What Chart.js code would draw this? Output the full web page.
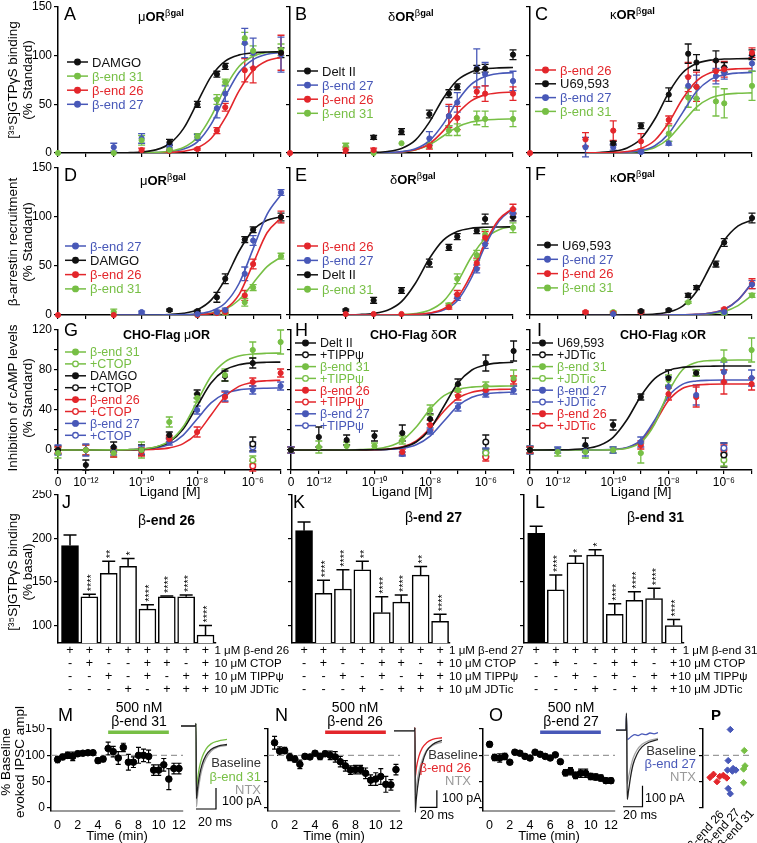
<!DOCTYPE html>
<html><head><meta charset="utf-8">
<script src="https://cdn.jsdelivr.net/npm/chart.js@4.4.1/dist/chart.umd.min.js"></script>
<style>
html,body{margin:0;padding:0;background:#fff;}
#root{position:relative;width:757px;height:843px;overflow:hidden;background:#fff;font-family:'Liberation Sans',Arial,Helvetica,sans-serif;color:#000;}
#root canvas{position:absolute;}
.t{position:absolute;white-space:nowrap;line-height:1;}
.t sup{font-size:0.72em;vertical-align:0.5em;line-height:0;}
.n{font-weight:normal;}
</style></head><body><div id="root"></div>
<script>
// ================= DATA =================
// dose axis = log10 [M]; -13 stands for the "0" (vehicle) position
const X_TICKS = [-13,-12,-11,-10,-9,-8,-7,-6,-5];
const X_LABELS = ['0','10⁻¹²','','10⁻¹⁰','','10⁻⁸','','10⁻⁶',''];
const Y_TICKS_12 = [0,50,100,150];
const Y_LABELS_12 = ['0','50','100','150'];
const Y_TICKS_3 = [-20,0,20,40,60,80,100,120];
const Y_LABELS_3 = ['','0','','40','','80','','120'];
const FIT_X = [-11,-10.5,-10,-9.5,-9,-8.5,-8,-7.5,-7,-6.5,-6,-5.5,-5];
const FIT_X3 = [-13,-12,-11,-10.5,-10,-9.5,-9,-8.5,-8,-7.5,-7,-6.5,-6,-5.5,-5];

// A  muOR bgal  [35S]GTPgS
const A_DAMGO_FIT = [0.1,0.3,1.0,3.2,9.5,25,52,79,94.5,100.8,103,103.7,103.9];
const A_B31_FIT = [0,0.06,0.2,0.6,1.8,5.6,15.9,37.8,67.2,89.1,99.4,103.2,104.4];
const A_B26_FIT = [0,0,0.06,0.18,0.56,1.75,5.3,15.1,36,64,84.9,94.7,98.3];
const A_B27_FIT = [0,0.04,0.12,0.4,1.3,4,11.5,30,58,83,96,101.5,103.3];
const A_DAMGO_PTS = [[-9,11,3],[-8,50,3],[-7.3,81,3],[-7,89,3],[-5,103,5]];
const A_B31_PTS = [[-13,0,0],[-11,0,0],[-10,13,5],[-9,3,2],[-8,17,3],[-7.3,55,5],[-7,73,3],[-6.3,118,6],[-6,105,5],[-5,106,6]];
const A_B26_PTS = [[-10,3,2],[-9,2,1],[-8,4,1],[-7.3,23,3],[-7,47,4],[-6.3,85,12],[-6,87,15],[-5,103,18]];
const A_B27_PTS = [[-11,6,4],[-10,15,5],[-9,6,3],[-8,16,3],[-7.3,46,10],[-7,61,8],[-6.3,113,15],[-6,103,15],[-5,101,18]];
// B  deltaOR bgal
const B_DELT_FIT = [0.05,0.16,0.5,1.5,4.7,13.3,31.7,56.3,74.7,83.3,86.5,87.5,87.8];
const B_B27_FIT = [0,0.05,0.15,0.46,1.45,4.4,12.5,29.9,53.1,70.5,78.6,81.6,82.6];
const B_B26_FIT = [0,0.04,0.11,0.35,1.1,3.3,9.5,22.7,40.3,53.5,59.7,61.9,62.7];
const B_B31_FIT = [0.01,0.035,0.11,0.35,1.07,3.2,8.4,17.5,26.6,31.8,33.9,34.7,34.9];
const B_DELT_PTS = [[-10,16,2],[-9,22,3],[-8,40,4],[-7.3,61,4],[-7,68,3],[-6.3,86,4],[-6,87,4],[-5,101,5]];
const B_B27_PTS = [[-8,15,7],[-7.3,38,10],[-7,52,10],[-6.3,87,20],[-6,81,12],[-5,74,10]];
const B_B26_PTS = [[-13,0,0],[-11,3,3],[-10,3,2],[-8,7,3],[-7.3,38,12],[-7,36,12],[-6.3,63,5],[-6,61,8],[-5,61,7]];
const B_B31_PTS = [[-11,7,3],[-10,0,0],[-9,10,0],[-8,8,3],[-7.3,23,5],[-7,24,6],[-6.3,36,7],[-6,35,8],[-5,35,8]];
// C  kappaOR bgal
const C_B26_FIT = [0.05,0.16,0.49,1.5,4.6,13.1,31.3,55.7,73.9,82.4,85.5,86.5,86.8];
const C_U69_FIT = [0.17,0.54,1.7,5.2,14.6,34.9,62.1,82.4,91.9,95.4,96.5,96.9,97];
const C_B27_FIT = [0.02,0.08,0.26,0.82,2.55,7.5,19.9,41.5,63.1,75.4,80.4,82.2,82.7];
const C_B31_FIT = [0.015,0.06,0.19,0.61,1.9,5.6,14.9,31,47.1,56.4,60.1,61.4,61.8];
const C_B26_PTS = [[-13,0,0],[-11,14,7],[-10,23,10],[-9,12,8],[-8,34,4],[-7.3,78,15],[-7,68,15],[-6.3,84,10],[-6,86,8],[-5,103,5]];
const C_U69_PTS = [[-10,10,2],[-9,28,3],[-8,60,7],[-7.3,102,10],[-7,93,8],[-6.3,95,10],[-6,88,5],[-5,101,5]];
const C_B27_PTS = [[-11,6,10],[-10,6,3],[-9,1,1],[-8,10,2],[-7.3,69,10],[-7,68,12],[-6.3,79,8],[-6,82,6],[-5,92,8]];
const C_B31_PTS = [[-8,20,8],[-7.3,57,10],[-7,56,12],[-6.3,53,15],[-6,51,15],[-5,69,15]];
// D  muOR beta-arrestin
const D_B27_FIT = [0,0,0,0.04,0.13,0.43,1.34,4.1,12.3,32.4,67.5,102.6,122.7];
const D_DAMGO_FIT = [0,0,0.06,0.18,0.57,1.8,5.4,15.4,36.7,65.3,86.6,96.6,100.3];
const D_B26_FIT = [0,0,0,0,0,0.1,0.4,1.6,6.2,21.1,52.5,83.9,98.8];
const D_B31_FIT = [0,0,0,0.02,0.06,0.2,0.64,2.0,5.9,15.6,32.5,49.4,59.1];
const D_B27_PTS = [[-10,3,1],[-8,1,1],[-7.3,3,2],[-7,5,2],[-6.3,42,7],[-6,76,5],[-5,125,3]];
const D_DAMGO_PTS = [[-9,5,1],[-8,4,1],[-7.3,18,5],[-7,37,5],[-6.3,77,3],[-6,87,3],[-5,100,4]];
const D_B26_PTS = [[-13,0,0],[-11,0,0],[-8,0,0],[-7.3,2,1],[-7,3,2],[-6.3,20,5],[-6,52,5],[-5,100,6]];
const D_B31_PTS = [[-11,3,3],[-8,0,0],[-7.3,2,1],[-7,2,1],[-6.3,13,4],[-6,28,3],[-5,60,3]];
// E  deltaOR beta-arrestin
const E_B26_FIT = [0,0,0,0.06,0.2,0.6,2.0,6.1,17.4,41.4,73.6,97.6,108.9];
const E_B27_FIT = [0,0,0,0.05,0.16,0.5,1.6,5.0,14.5,37.5,70.5,96,108.5];
const E_DELT_FIT = [0.16,0.5,1.6,4.8,13.6,32.4,57.6,76.4,85.2,88.5,89.5,89.8,90];
const E_B31_FIT = [0,0,0.05,0.16,0.5,1.6,4.9,13.9,33.1,58.9,78.1,87.1,90.4];
const E_B26_PTS = [[-11,1,0],[-10,1,0],[-9,1,0],[-7.3,8,2],[-7,21,4],[-6.3,53,5],[-6,79,6],[-5,108,5]];
const E_B27_PTS = [[-7,18,3],[-6.3,47,4],[-6,72,4],[-5,104,4]];
const E_DELT_PTS = [[-11,5,1],[-10,15,3],[-9,25,3],[-8,53,4],[-7.3,69,3],[-7,80,3],[-6.3,86,3],[-6,98,5],[-5,100,4]];
const E_B31_PTS = [[-7.3,10,2],[-7,37,5],[-6.3,61,5],[-6,82,5],[-5,89,5]];
// F  kappaOR beta-arrestin
const F_U69_FIT = [0,0,0.03,0.1,0.32,1.0,3.1,9.1,24,50,76,90.9,96.9];
const F_B27_FIT = [0,0,0,0,0,0,0.06,0.2,0.6,1.9,5.7,15.5,33];
const F_B26_FIT = [0,0,0,0,0,0,0.07,0.2,0.64,2.0,5.9,15.6,32.5];
const F_B31_FIT = [0,0,0,0,0,0,0.04,0.13,0.4,1.2,3.6,9.6,20];
const F_U69_PTS = [[-9,4,1],[-8,5,1],[-7.3,20,2],[-7,28,2],[-6.3,52,3],[-6,74,4],[-5,99,5]];
const F_B27_PTS = [[-10,1,0],[-6,3,1],[-5,31,4]];
const F_B26_PTS = [[-11,3,1],[-10,2,1],[-9,3,1],[-6,6,1],[-5,32,5]];
const F_B31_PTS = [[-10,3,1],[-7.3,13,1],[-6,2,1],[-5,20,2]];
// G  CHO-Flag muOR cAMP
const G_B31_FIT = [0,0.01,0.1,0.31,0.96,3.0,8.8,23.3,48.5,73.7,88.2,94,96,96.7,96.9];
const G_DAMGO_FIT = [0,0.01,0.09,0.28,0.87,2.7,8.0,21.1,44,66.9,80,85.3,87.1,87.7,87.9];
const G_B26_FIT = [0,0,0.02,0.07,0.22,0.69,2.1,6.4,16.8,35,53.2,63.6,67.8,69.3,69.8];
const G_B27_FIT = [0,0.006,0.06,0.2,0.61,1.9,5.6,14.9,31,47.1,56.4,60.1,61.4,61.8,62];
const G_B31_PTS = [[-13,-3,5],[-12,0,5],[-11,-3,4],[-10,0,8],[-9,28,5],[-8,52,4],[-7,75,6],[-6,100,8],[-5,108,12]];
const G_B31_ANT = [[-6,-10,4]];
const G_DAMGO_PTS = [[-13,0,4],[-12,-15,5],[-11,3,5],[-10,0,5],[-9,15,3],[-8,56,4],[-7,74,5],[-6,87,5]];
const G_DAMGO_ANT = [[-6,6,7]];
const G_B26_PTS = [[-13,0,3],[-12,0,5],[-11,-3,4],[-10,-2,4],[-9,11,3],[-8,18,5],[-7,53,5],[-6,68,4],[-5,77,4]];
const G_B26_ANT = [[-6,-16,5]];
const G_B27_PTS = [[-13,0,5],[-12,0,6],[-11,-1,4],[-10,0,4],[-9,8,3],[-8,40,4],[-7,54,5],[-6,60,4],[-5,64,4]];
const G_B27_ANT = [[-6,3,5]];
// H  CHO-Flag deltaOR cAMP
const H_DELT_FIT = [0,0,0.03,0.09,0.28,0.87,2.7,8.0,21.1,44,66.9,80,85.3,87.1,87.7];
const H_B31_FIT = [0,0.01,0.11,0.36,1.1,3.4,9.7,23,41,54.3,60.6,62.9,63.6,63.9,64];
const H_B26_FIT = [0,0,0.03,0.1,0.34,1.07,3.2,9.2,22,39,51.8,57.8,60,60.6,60.9];
const H_B27_FIT = [0,0,0.02,0.06,0.18,0.57,1.8,5.3,13.9,29,44.1,52.7,56.2,57.4,57.8];
const H_DELT_PTS = [[-13,0,3],[-12,13,10],[-11,10,5],[-10,14,5],[-9,17,8],[-8,31,5],[-7,66,5],[-6,87,8],[-5,99,10]];
const H_DELT_ANT = [[-6,8,7]];
const H_B31_PTS = [[-13,0,3],[-12,3,6],[-11,4,4],[-10,4,3],[-9,10,4],[-8,40,5],[-7,60,5],[-6,64,4],[-5,72,8]];
const H_B31_ANT = [[-6,-3,4]];
const H_B26_PTS = [[-13,0,3],[-9,-2,3],[-8,25,5],[-7,54,4],[-6,60,4],[-5,70,4]];
const H_B26_ANT = [[-6,-7,4]];
const H_B27_PTS = [[-13,0,3],[-9,-4,2],[-8,19,3],[-7,43,4],[-6,56,3],[-5,60,4]];
const H_B27_ANT = [[-6,-2,4]];
// I  CHO-Flag kappaOR cAMP
const I_U69_FIT = [0,0.15,1.5,4.5,12.7,30.2,53.8,71.3,79.5,82.6,83.5,83.8,84,84,84];
const I_B31_FIT = [0,0,0,0.05,0.4,1.8,7.5,26,58,80,87.5,89.4,89.8,90,90];
const I_B27_FIT = [0,0,0,0.1,0.6,2.5,10,29.8,53.8,65.6,69,69.7,70,70,70];
const I_B26_FIT = [0,0,0,0.05,0.5,2.2,8.8,27,49.5,61.5,64.8,65.7,66,66,66];
const I_U69_PTS = [[-13,0,3],[-11,5,7],[-10,25,5],[-9,53,3],[-8,72,8],[-7,77,3]];
const I_U69_ANT = [[-6,-5,12]];
const I_B31_PTS = [[-13,0,4],[-12,-2,4],[-11,-2,6],[-10,0,3],[-9,-3,10],[-8,70,5],[-7,77,3],[-6,90,10],[-5,100,12]];
const I_B31_ANT = [[-6,-10,6]];
const I_B27_PTS = [[-13,0,4],[-12,0,3],[-11,-1,5],[-10,0,3],[-9,8,5],[-8,63,10],[-7,55,10],[-6,78,10],[-5,72,8]];
const I_B27_ANT = [[-6,2,5]];
const I_B26_PTS = [[-13,0,3],[-9,5,4],[-8,56,6],[-7,53,10],[-6,68,12],[-5,66,6]];
const I_B26_ANT = [[-6,0,5]];

// J K L  [35S]GTPgS % basal, antagonist table
const BAR_Y_TICKS = [100,150,200,250];
const BAR_Y_LABELS = ['100','150','200','250'];
const J_VALS = [192,133,160,168,119,133,133,89];
const J_ERR = [12,3,14,9,5,1,2,11];
const J_STARS = ['','****','**','*','****','****','****','****'];
const K_VALS = [209,137,142,164,115,127,158,105];
const K_ERR = [10,15,22,10,18,8,10,8];
const K_STARS = ['','****','****','**','****','****','**','****'];
const L_VALS = [206,141,172,181,113,129,131,100];
const L_ERR = [8,17,8,6,12,10,12,7];
const L_STARS = ['','****','*','*','****','****','****','****'];
const ROW_LIG = ['+','+','+','+','+','+','+','+'];
const ROW_CTOP = ['-','+','-','-','+','+','-','+'];
const ROW_TIPP = ['-','-','+','-','+','-','+','+'];
const ROW_JDTIC = ['-','-','-','+','-','+','+','+'];
const J_ROWLAB = ['1 μM β-end 26','10 μM CTOP','10 μM TIPPψ','10 μM JDTic'];
const K_ROWLAB = ['1 μM β-end 27','10 μM CTOP','10 μM TIPPψ','10 μM JDTic'];
const L_ROWLAB = ['1 μM β-end 31','10 μM CTOP','10 μM TIPPψ','10 μM JDTic'];

// M N O  evoked IPSC time course
const T_MIN = [0,0.5,1,1.5,2,2.5,3,3.5,4,4.5,5,5.5,6,6.5,7,7.5,8,8.5,9,9.5,10,10.5,11,11.5,12];
const T_TICKS = [0,2,4,6,8,10,12];
const T_LABELS = ['0','2','4','6','8','10','12'];
const M_VALS = [92,97,100,98,103,104,105,105,90,93,113,107,95,115,87,87,100,100,98,72,72,82,55,75,75];
const M_ERR = [6,5,6,8,5,4,4,3,5,5,12,10,12,8,15,10,15,12,12,10,10,12,20,10,10];
const N_VALS = [124,108,109,97,93,83,98,97,104,98,103,100,97,88,80,72,73,73,66,53,55,60,45,44,73];
const N_ERR = [12,8,6,7,6,8,4,4,4,6,5,8,10,10,10,8,8,8,10,10,12,15,15,10,10];
const O_VALS = [121,96,95,98,87,106,104,98,95,106,102,98,95,101,88,67,70,62,66,66,60,59,57,52,52];
const O_ERR = [5,6,8,6,3,4,4,4,4,3,4,4,4,3,4,6,7,6,8,8,6,6,6,5,5];
const DRUG_ON = [5,11];
// P  per-cell % baseline
const P_B26 = [58,64,50,60,62,57];
const P_B26_JIT = [-0.6,-0.35,-0.1,0.1,0.35,0.6];
const P_B27 = [149,90,75,72,70,72,37,27];
const P_B27_JIT = [-0.1,-0.25,0.1,-0.3,0.05,0.3,-0.25,-0.1];
const P_B31 = [109,80,74,48];
const P_B31_JIT = [0.05,0.1,0,0];
// IPSC traces  [ms, pA]
const M_TR_BASE = [[0,0],[14.6,0],[15,12],[15.4,-345],[16.5,-300],[18.5,-235],[21,-185],[25,-140],[30,-112],[37,-96],[46,-88]];
const M_TR_NTX = [[0,0],[14.6,0],[15,10],[15.4,-385],[16.5,-335],[18.5,-265],[21,-205],[25,-155],[30,-120],[37,-100],[46,-92]];
const M_TR_DRUG = [[14.6,0],[15,10],[15.4,-300],[16.5,-255],[18.5,-195],[21,-150],[25,-110],[30,-85],[37,-72],[46,-64]];
const M_SCALE = [[15,-395],[35,-395],[35,-295]];
const N_TR_BASE = [[0,0],[24,0],[24.5,20],[24.8,-480],[26,-400],[29,-280],[33,-190],[38,-120],[45,-80],[56,-55]];
const N_TR_NTX = [[0,0],[24,0],[24.5,15],[24.8,-380],[26,-330],[29,-240],[33,-170],[38,-115],[45,-85],[56,-65]];
const N_TR_DRUG = [[24,0],[24.5,20],[24.8,-270],[26,-220],[29,-150],[33,-100],[38,-70],[45,-50],[56,-40]];
const N_SCALE = [[30,-450],[50,-450],[50,-350]];
const O_TR_BASE = [[0,0],[10,0],[10.4,80],[10.8,-20],[11.2,-330],[12.5,-290],[14.5,-225],[17,-165],[21,-115],[26,-80],[33,-58],[42,-45]];
const O_TR_NTX = [[0,0],[10,0],[10.4,60],[10.8,-20],[11.2,-255],[12.5,-225],[14.5,-180],[17,-135],[21,-95],[26,-68],[33,-50],[42,-40]];
const O_TR_DRUG = [[0,0],[10,0],[10.4,70],[10.8,-30],[11.5,-45],[13,-40],[16,-28],[19,-22],[22,-26],[26,-18],[30,-22],[34,-14],[38,-18],[42,-12]];
const O_SCALE = [[7,-365],[26.5,-365],[26.5,-265]];

// ================= STYLE / HELPERS =================
const FONT = "'Liberation Sans', Arial, Helvetica, sans-serif";
const CK = '#111111', CG = '#77bf45', CR = '#e3262b', CB = '#4858b8', CGRAY = '#9a9a9a';
Chart.defaults.font.family = FONT;
Chart.defaults.color = '#000';
const root = document.getElementById('root');

function txt(html, x, cy, o) {
  o = o || {};
  const d = document.createElement('div');
  d.className = 't';
  d.innerHTML = html;
  d.style.fontSize = (o.size || 13) + 'px';
  if (o.bold) d.style.fontWeight = 'bold';
  if (o.color) d.style.color = o.color;
  d.style.top = cy + 'px';
  if (o.align === 'center') { d.style.left = x + 'px'; d.style.transform = 'translate(-50%,-50%)'; }
  else if (o.align === 'right') { d.style.right = (757 - x) + 'px'; d.style.transform = 'translateY(-50%)'; }
  else { d.style.left = x + 'px'; d.style.transform = 'translateY(-50%)'; }
  if (o.rot) { d.style.transformOrigin = '100% 50%'; d.style.transform = 'translateY(-50%) rotate(' + o.rot + 'deg)'; }
  root.appendChild(d);
  return d;
}
function vtxt(lines, cx, cy, size, lh) {
  const d = document.createElement('div');
  d.className = 't';
  d.style.fontSize = size + 'px';
  d.style.lineHeight = lh + 'px';
  d.style.textAlign = 'center';
  d.innerHTML = lines.join('<br>');
  d.style.left = cx + 'px'; d.style.top = cy + 'px';
  d.style.transform = 'translate(-50%,-50%) rotate(-90deg)';
  root.appendChild(d);
}

function drawErr(chart, after) {
  const ctx = chart.ctx, xs = chart.scales.x, ys = chart.scales.y;
  chart.data.datasets.forEach(ds => {
    if (!ds.errs || (!!ds.errAfter) !== after) return;
    ctx.save();
    ctx.strokeStyle = ds.borderColor; ctx.lineWidth = ds.errW || 1.2;
    ctx.beginPath();
    ds.data.forEach((p, i) => {
      const e = ds.errs[i]; if (!e) return;
      const x = xs.getPixelForValue(p.x), c = ds.errCap || 3.5;
      const y1 = ys.getPixelForValue(p.y + e);
      const y2 = ds.errUp ? ys.getPixelForValue(p.y) : ys.getPixelForValue(p.y - e);
      ctx.moveTo(x, y1); ctx.lineTo(x, y2);
      ctx.moveTo(x - c, y1); ctx.lineTo(x + c, y1);
      if (!ds.errUp) { ctx.moveTo(x - c, y2); ctx.lineTo(x + c, y2); }
    });
    ctx.stroke(); ctx.restore();
  });
}
const errPlugin = { id: 'errbars',
  beforeDatasetsDraw(chart) { drawErr(chart, false); },
  afterDatasetsDraw(chart) { drawErr(chart, true); } };

const legPlugin = { id: 'leg2',
  afterDraw(chart) {
    const cfg = chart.canvas._cfg; if (!cfg || !cfg.leg) return;
    const L = cfg.leg, ctx = chart.ctx, ox = chart.canvas._ox, oy = chart.canvas._oy;
    L.items.forEach((ds, i) => {
      const x = L.x - ox, y = L.y - oy + i * L.dy, col = ds.borderColor;
      ctx.save();
      ctx.strokeStyle = col; ctx.lineWidth = 1.5;
      ctx.beginPath(); ctx.moveTo(x, y); ctx.lineTo(x + 21, y); ctx.stroke();
      ctx.beginPath(); ctx.arc(x + 10.5, y, 2.8, 0, 2 * Math.PI);
      ctx.fillStyle = ds.open ? '#fff' : col; ctx.fill(); ctx.lineWidth = 1.3; ctx.stroke();
      ctx.fillStyle = col; ctx.font = L.fs + 'px ' + FONT; ctx.textBaseline = 'middle'; ctx.textAlign = 'left';
      ctx.fillText(ds.label, x + 25, y + 1);
      ctx.restore();
    });
  } };

const barTextPlugin = { id: 'bartext',
  afterDraw(chart) {
    const cfg = chart.canvas._cfg; if (!cfg || !cfg.table) return;
    const ctx = chart.ctx, xs = chart.scales.x, ys = chart.scales.y, oy = chart.canvas._oy;
    const ds = chart.data.datasets[0];
    ctx.save(); ctx.fillStyle = '#000';
    ctx.font = '11px ' + FONT;
    ds.data.forEach((p, i) => {
      const s = ds.stars[i]; if (!s) return;
      const x = xs.getPixelForValue(p.x), y = ys.getPixelForValue(p.y + ds.errs[i]) - 3;
      ctx.save(); ctx.translate(x + 2.5, y); ctx.rotate(-Math.PI / 2);
      ctx.textAlign = 'left'; ctx.textBaseline = 'middle'; ctx.fillText(s, 0, 0); ctx.restore();
    });
    const T = cfg.table;
    T.rows.forEach((row, r) => {
      const y = T.rowY[r] - oy;
      ctx.font = T.fs + 'px ' + FONT; ctx.textAlign = 'center'; ctx.textBaseline = 'middle';
      row.forEach((s, i) => ctx.fillText(s, xs.getPixelForValue(i + 1), y));
      ctx.font = T.lfs + 'px ' + FONT; ctx.textAlign = 'left';
      ctx.fillText(T.labels[r], xs.getPixelForValue(row.length) + T.off[r], y);
    });
    ctx.restore();
  } };

function mk(o) {
  const w = Math.round(o.r - o.l + o.pl + o.pr), h = Math.round(o.b - o.t + o.pt + o.pb);
  const ox = o.l - o.pl, oy = o.t - o.pt;
  const pr = w - o.pl - (o.r - o.l), pb = h - o.pt - (o.b - o.t);
  const c = document.createElement('canvas');
  c.width = w; c.height = h;
  c.style.left = ox + 'px'; c.style.top = oy + 'px'; c.style.width = w + 'px'; c.style.height = h + 'px';
  c._ox = ox; c._oy = oy; c._cfg = o.cfg || {};
  root.appendChild(c);
  function axis(a, horiz) {
    return {
      type: 'linear', min: a.min, max: a.max, offset: false, display: a.display !== false,
      afterBuildTicks: s => { s.ticks = a.ticks.map(v => ({ value: v })); },
      afterFit: s => { if (horiz) s.height = pb; else s.width = o.pl;
        s.paddingLeft = 0; s.paddingRight = 0; s.paddingTop = 0; s.paddingBottom = 0; },
      grid: { display: a.tl !== 0, drawOnChartArea: false, drawTicks: true, tickLength: a.tl === undefined ? 4 : a.tl, color: '#000', lineWidth: 1.2 },
      border: { display: a.border !== false, color: a.color || '#000', width: a.bw || 1.5 },
      ticks: { display: !!a.labels, autoSkip: false, maxRotation: 0, padding: a.pad === undefined ? 2 : a.pad, color: '#000',
        font: { size: a.fs || 12, family: FONT }, callback: (v, i) => (a.labels ? a.labels[i] : '') }
    };
  }
  return new Chart(c, {
    type: o.type || 'line',
    data: { datasets: o.datasets },
    options: {
      responsive: false, animation: false, devicePixelRatio: 1, events: [],
      layout: { padding: { left: 0, top: o.pt, right: pr, bottom: 0 } },
      scales: { x: axis(o.x, true), y: axis(o.y, false) },
      plugins: { legend: { display: false }, tooltip: { enabled: false } }
    },
    plugins: [errPlugin, legPlugin, barTextPlugin]
  });
}

function dosePanel(p) {
  const ds = [], items = [];
  p.series.forEach(s => {
    if (s.fit) ds.push({ label: s.label, data: p.grid.map((x, i) => ({ x: x, y: s.fit[i] })), borderColor: s.color,
      borderWidth: 1.6, pointRadius: 0, cubicInterpolationMode: 'monotone', fill: false, order: 3 });
  });
  p.series.forEach(s => {
    const d = { label: s.label, data: s.pts.map(q => ({ x: q[0], y: q[1] })), errs: s.pts.map(q => q[2]), showLine: false,
      borderColor: s.color, pointRadius: s.open ? 2.8 : 2.6, pointBackgroundColor: s.open ? '#fff' : s.color,
      pointBorderColor: s.color, pointBorderWidth: s.open ? 1.4 : 1, clip: false, order: s.open ? 1 : 2, errCap: 3.5, errW: 1.3, open: !!s.open };
    ds.push(d); items.push(d);
  });
  mk({ l: p.l, r: p.r, t: p.t, b: p.b, pl: p.pl, pr: p.pr, pt: p.pt, pb: p.pb,
    x: { min: -13, max: -5, ticks: X_TICKS, labels: p.xlab ? X_LABELS : null, pad: 1 },
    y: p.y, datasets: ds, cfg: { leg: Object.assign({ items: items }, p.leg) } });
}

// ================= ROW 1 =================
const R1 = { t: 7, b: 153, pt: 7, pb: 10 };
const Y12L = { min: 0, max: 150, ticks: Y_TICKS_12, labels: Y_LABELS_12 };
const Y12 = { min: 0, max: 150, ticks: Y_TICKS_12 };
dosePanel(Object.assign({ l: 58, r: 281, pl: 58, pr: 5, y: Y12L, grid: FIT_X, leg: { x: 67, y: 62, dy: 14.1, fs: 13 },
  series: [
    { label: 'DAMGO', color: CK, fit: A_DAMGO_FIT, pts: A_DAMGO_PTS },
    { label: 'β-end 31', color: CG, fit: A_B31_FIT, pts: A_B31_PTS },
    { label: 'β-end 26', color: CR, fit: A_B26_FIT, pts: A_B26_PTS },
    { label: 'β-end 27', color: CB, fit: A_B27_FIT, pts: A_B27_PTS }] }, R1));
dosePanel(Object.assign({ l: 290, r: 513, pl: 40, pr: 5, y: Y12, grid: FIT_X, leg: { x: 297, y: 71, dy: 14.1, fs: 13 },
  series: [
    { label: 'Delt II', color: CK, fit: B_DELT_FIT, pts: B_DELT_PTS },
    { label: 'β-end 27', color: CB, fit: B_B27_FIT, pts: B_B27_PTS },
    { label: 'β-end 26', color: CR, fit: B_B26_FIT, pts: B_B26_PTS },
    { label: 'β-end 31', color: CG, fit: B_B31_FIT, pts: B_B31_PTS }] }, R1));
dosePanel(Object.assign({ l: 530, r: 753, pl: 40, pr: 4, y: Y12, grid: FIT_X, leg: { x: 535, y: 70, dy: 13.8, fs: 13 },
  series: [
    { label: 'β-end 26', color: CR, fit: C_B26_FIT, pts: C_B26_PTS },
    { label: 'U69,593', color: CK, fit: C_U69_FIT, pts: C_U69_PTS },
    { label: 'β-end 27', color: CB, fit: C_B27_FIT, pts: C_B27_PTS },
    { label: 'β-end 31', color: CG, fit: C_B31_FIT, pts: C_B31_PTS }] }, R1));

// ================= ROW 2 =================
const R2 = { t: 168, b: 315, pt: 10, pb: 10 };
dosePanel(Object.assign({ l: 58, r: 281, pl: 58, pr: 5, y: Y12L, grid: FIT_X, leg: { x: 65, y: 246, dy: 14.3, fs: 13 },
  series: [
    { label: 'β-end 27', color: CB, fit: D_B27_FIT, pts: D_B27_PTS },
    { label: 'DAMGO', color: CK, fit: D_DAMGO_FIT, pts: D_DAMGO_PTS },
    { label: 'β-end 26', color: CR, fit: D_B26_FIT, pts: D_B26_PTS },
    { label: 'β-end 31', color: CG, fit: D_B31_FIT, pts: D_B31_PTS }] }, R2));
dosePanel(Object.assign({ l: 290, r: 513, pl: 40, pr: 5, y: Y12, grid: FIT_X, leg: { x: 297, y: 246, dy: 14.4, fs: 13 },
  series: [
    { label: 'β-end 26', color: CR, fit: E_B26_FIT, pts: E_B26_PTS },
    { label: 'β-end 27', color: CB, fit: E_B27_FIT, pts: E_B27_PTS },
    { label: 'Delt II', color: CK, fit: E_DELT_FIT, pts: E_DELT_PTS },
    { label: 'β-end 31', color: CG, fit: E_B31_FIT, pts: E_B31_PTS }] }, R2));
dosePanel(Object.assign({ l: 530, r: 753, pl: 40, pr: 4, y: Y12, grid: FIT_X, leg: { x: 537, y: 245, dy: 14.3, fs: 13 },
  series: [
    { label: 'U69,593', color: CK, fit: F_U69_FIT, pts: F_U69_PTS },
    { label: 'β-end 27', color: CB, fit: F_B27_FIT, pts: F_B27_PTS },
    { label: 'β-end 26', color: CR, fit: F_B26_FIT, pts: F_B26_PTS },
    { label: 'β-end 31', color: CG, fit: F_B31_FIT, pts: F_B31_PTS }] }, R2));

// ================= ROW 3 =================
const R3 = { t: 330, b: 470, pt: 10, pb: 28, xlab: true };
const Y3L = { min: -20, max: 120, ticks: Y_TICKS_3, labels: Y_LABELS_3 };
const Y3 = { min: -20, max: 120, ticks: Y_TICKS_3 };
dosePanel(Object.assign({ l: 58, r: 281, pl: 58, pr: 5, y: Y3L, grid: FIT_X3, leg: { x: 65, y: 352, dy: 11.9, fs: 12.5 },
  series: [
    { label: 'β-end 31', color: CG, fit: G_B31_FIT, pts: G_B31_PTS },
    { label: '+CTOP', color: CG, pts: G_B31_ANT, open: true },
    { label: 'DAMGO', color: CK, fit: G_DAMGO_FIT, pts: G_DAMGO_PTS },
    { label: '+CTOP', color: CK, pts: G_DAMGO_ANT, open: true },
    { label: 'β-end 26', color: CR, fit: G_B26_FIT, pts: G_B26_PTS },
    { label: '+CTOP', color: CR, pts: G_B26_ANT, open: true },
    { label: 'β-end 27', color: CB, fit: G_B27_FIT, pts: G_B27_PTS },
    { label: '+CTOP', color: CB, pts: G_B27_ANT, open: true }] }, R3));
dosePanel(Object.assign({ l: 291, r: 514, pl: 40, pr: 5, y: Y3, grid: FIT_X3, leg: { x: 295, y: 343, dy: 11.8, fs: 12.5 },
  series: [
    { label: 'Delt II', color: CK, fit: H_DELT_FIT, pts: H_DELT_PTS },
    { label: '+TIPPψ', color: CK, pts: H_DELT_ANT, open: true },
    { label: 'β-end 31', color: CG, fit: H_B31_FIT, pts: H_B31_PTS },
    { label: '+TIPPψ', color: CG, pts: H_B31_ANT, open: true },
    { label: 'β-end 26', color: CR, fit: H_B26_FIT, pts: H_B26_PTS },
    { label: '+TIPPψ', color: CR, pts: H_B26_ANT, open: true },
    { label: 'β-end 27', color: CB, fit: H_B27_FIT, pts: H_B27_PTS },
    { label: '+TIPPψ', color: CB, pts: H_B27_ANT, open: true }] }, R3));
dosePanel(Object.assign({ l: 530, r: 753, pl: 40, pr: 4, y: Y3, grid: FIT_X3, leg: { x: 532, y: 343, dy: 11.8, fs: 12.5 },
  series: [
    { label: 'U69,593', color: CK, fit: I_U69_FIT, pts: I_U69_PTS },
    { label: '+JDTic', color: CK, pts: I_U69_ANT, open: true },
    { label: 'β-end 31', color: CG, fit: I_B31_FIT, pts: I_B31_PTS },
    { label: '+JDTic', color: CG, pts: I_B31_ANT, open: true },
    { label: 'β-end 27', color: CB, fit: I_B27_FIT, pts: I_B27_PTS },
    { label: '+JDTic', color: CB, pts: I_B27_ANT, open: true },
    { label: 'β-end 26', color: CR, fit: I_B26_FIT, pts: I_B26_PTS },
    { label: '+JDTic', color: CR, pts: I_B26_ANT, open: true }] }, R3));

// ================= ROW 4 (bars) =================
function barPanel(o) {
  const ds = [{ type: 'bar', data: o.vals.map((v, i) => ({ x: i + 1, y: v })),
    backgroundColor: o.vals.map((v, i) => (i === 0 ? '#000' : '#fff')), borderColor: '#000', borderWidth: 1.5,
    barThickness: 17, errs: o.errs, errUp: true, errAfter: true, errCap: 6.5, errW: 1.5, stars: o.stars }];
  mk({ type: 'bar', l: o.l, r: o.r, t: 495, b: 643, pl: o.pl, pr: o.pr, pt: 5, pb: 55,
    x: { min: 0.38, max: 8.5, ticks: [1], tl: 0 },
    y: { min: 80, max: 250, ticks: BAR_Y_TICKS, labels: o.showY ? BAR_Y_LABELS : null },
    datasets: ds,
    cfg: { table: { rows: [ROW_LIG, ROW_CTOP, ROW_TIPP, ROW_JDTIC], rowY: [651, 664, 677, 690], labels: o.rowlab, off: o.off, fs: 12.5, lfs: 11.5 } } });
}
barPanel({ l: 58, r: 215.2, pl: 58, pr: 80, vals: J_VALS, errs: J_ERR, stars: J_STARS, rowlab: J_ROWLAB, off: [9, 9, 9, 9], showY: true });
barPanel({ l: 292, r: 449.8, pl: 40, pr: 80, vals: K_VALS, errs: K_ERR, stars: K_STARS, rowlab: K_ROWLAB, off: [9, 9, 9, 9] });
barPanel({ l: 524, r: 683.5, pl: 40, pr: 73.5, vals: L_VALS, errs: L_ERR, stars: L_STARS, rowlab: L_ROWLAB, off: [9, 4.5, 4.5, 4.5] });

// ================= ROW 5 =================
function timePanel(o) {
  const ds = [
    { data: [{ x: -0.65, y: 100 }, { x: 12.4, y: 100 }], borderColor: CGRAY, borderWidth: 1.2, borderDash: [6, 4], pointRadius: 0, order: 3 },
    { data: [{ x: DRUG_ON[0], y: 144 }, { x: DRUG_ON[1], y: 144 }], borderColor: o.color, borderWidth: 3.5, pointRadius: 0, order: 3 },
    { data: T_MIN.map((t, i) => ({ x: t, y: o.vals[i] })), errs: o.errs, errCap: 2.5, errW: 1.2, showLine: false, borderColor: '#000',
      pointRadius: 3.3, pointBackgroundColor: '#000', pointBorderColor: '#000', clip: false, order: 1 }];
  mk({ l: o.l, r: o.l + 132.5, t: 728, b: 810.7, pl: o.pl, pr: 4, pt: 4, pb: 32.3,
    x: { min: -0.65, max: 12.4, ticks: T_TICKS, labels: T_LABELS, tl: 0, pad: 7, color: '#9a9a9a', bw: 2, fs: 12.5 },
    y: { min: -5, max: 150, ticks: Y_TICKS_12, labels: o.showY ? Y_LABELS_12 : null, fs: 12 }, datasets: ds });
}
timePanel({ l: 51, pl: 51, color: CG, vals: M_VALS, errs: M_ERR, showY: true });
timePanel({ l: 268, pl: 30, color: CR, vals: N_VALS, errs: N_ERR });
timePanel({ l: 483, pl: 30, color: CB, vals: O_VALS, errs: O_ERR });

function inset(o) {
  const tr = (arr, col, w) => ({ data: arr.map(q => ({ x: q[0], y: q[1] })), borderColor: col, borderWidth: w || 1.3,
    pointRadius: 0, cubicInterpolationMode: 'monotone', fill: false, clip: false });
  mk({ l: o.l, r: o.r, t: o.t, b: o.b, pl: 0, pr: 0, pt: 0, pb: 0,
    x: { min: o.x[0], max: o.x[1], ticks: [], display: false }, y: { min: o.y[0], max: o.y[1], ticks: [], display: false },
    datasets: [tr(o.base, '#222'), tr(o.ntx, '#a6a6a6'), tr(o.drug, o.color), tr(o.bar, '#000', 1.2)] });
}
inset({ l: 181, r: 227, t: 718, b: 813, x: [0, 46], y: [-414, 38], base: M_TR_BASE, ntx: M_TR_NTX, drug: M_TR_DRUG, bar: M_SCALE, color: CG });
inset({ l: 394, r: 442, t: 724, b: 817, x: [0, 56], y: [-507, 41], base: N_TR_BASE, ntx: N_TR_NTX, drug: N_TR_DRUG, bar: N_SCALE, color: CR });
inset({ l: 616, r: 658, t: 712, b: 808, x: [0, 42], y: [-371, 86], base: O_TR_BASE, ntx: O_TR_NTX, drug: O_TR_DRUG, bar: O_SCALE, color: CB });

// P
(function () {
  const dia = (vals, jit, cat, col) => ({ data: vals.map((v, i) => ({ x: cat + jit[i], y: v })), showLine: false, pointStyle: 'rectRot',
    pointRadius: 3.2, pointBackgroundColor: col, pointBorderColor: col, borderColor: col, clip: false, order: 1 });
  mk({ l: 703, r: 757, t: 728, b: 808, pl: 10, pr: 0, pt: 4, pb: 5,
    x: { min: 0, max: 3.5, ticks: [1], tl: 0, border: false }, y: { min: 0, max: 150, ticks: Y_TICKS_12 },
    datasets: [
      { data: [{ x: 0, y: 100 }, { x: 3.5, y: 100 }], borderColor: CGRAY, borderWidth: 1.2, borderDash: [6, 4], pointRadius: 0, order: 3 },
      dia(P_B26, P_B26_JIT, 1.1, CR), dia(P_B27, P_B27_JIT, 2.05, CB), dia(P_B31, P_B31_JIT, 2.9, CG)] });
})();

// ================= TEXT =================
[['A', 64, 14], ['B', 295, 14], ['C', 535, 14], ['D', 64, 175], ['E', 295, 175], ['F', 535, 174],
 ['G', 64, 330], ['H', 295, 330], ['I', 537, 330], ['J', 62, 502], ['K', 293, 502], ['L', 535, 502],
 ['M', 58, 715], ['N', 275, 715], ['O', 489, 715]].forEach(a => txt(a[0], a[1], a[2], { size: 18 }));
txt('P', 711, 714, { size: 15, bold: true });

txt('<span class="n">μ</span>OR<sup><span class="n">β</span>gal</sup>', 138, 16, { size: 13, bold: true });
txt('<span class="n">δ</span>OR<sup><span class="n">β</span>gal</sup>', 388, 16, { size: 13, bold: true });
txt('<span class="n">κ</span>OR<sup><span class="n">β</span>gal</sup>', 610, 14, { size: 13, bold: true });
txt('<span class="n">μ</span>OR<sup><span class="n">β</span>gal</sup>', 140, 180, { size: 13, bold: true });
txt('<span class="n">δ</span>OR<sup><span class="n">β</span>gal</sup>', 390, 179, { size: 13, bold: true });
txt('<span class="n">κ</span>OR<sup><span class="n">β</span>gal</sup>', 610, 177, { size: 13, bold: true });
txt('CHO-Flag <span class="n">μ</span>OR', 123, 335, { size: 12.5, bold: true });
txt('CHO-Flag <span class="n">δ</span>OR', 370, 335, { size: 12.5, bold: true });
txt('CHO-Flag <span class="n">κ</span>OR', 620, 335, { size: 12.5, bold: true });
txt('<span class="n">β</span>-end 26', 138, 520, { size: 14, bold: true });
txt('<span class="n">β</span>-end 27', 405, 517, { size: 14, bold: true });
txt('<span class="n">β</span>-end 31', 627, 517, { size: 14, bold: true });

vtxt(['[³⁵S]GTPγS binding', '(% Standard)'], 19.5, 80, 13.5, 15);
vtxt(['β-arrestin recruitment', '(% Standard)'], 19.5, 242, 13.5, 15);
vtxt(['Inhibition of cAMP levels', '(% Standard)'], 19.5, 398, 13.5, 15);
vtxt(['[³⁵S]GTPγS binding', '(% basal)'], 19.5, 572, 13.5, 15);
vtxt(['% Baseline', 'evoked IPSC ampl'], 13, 762, 13.5, 14);

txt('Ligand [M]', 170, 491, { align: 'center', size: 13 });
txt('Ligand [M]', 402, 491, { align: 'center', size: 13 });
txt('Ligand [M]', 641, 491, { align: 'center', size: 13 });
txt('Time (min)', 117, 835, { align: 'center', size: 13 });
txt('Time (min)', 334, 835, { align: 'center', size: 13 });
txt('Time (min)', 549, 835, { align: 'center', size: 13 });

txt('500 nM', 139, 707, { align: 'center', size: 14 });
txt('β-end 31', 139, 721, { align: 'center', size: 14 });
txt('500 nM', 355, 707, { align: 'center', size: 14 });
txt('β-end 26', 355, 721, { align: 'center', size: 14 });
txt('500 nM', 571, 707, { align: 'center', size: 14 });
txt('β-end 27', 571, 721, { align: 'center', size: 14 });

txt('Baseline', 261, 762, { align: 'right', size: 13, color: '#333' });
txt('β-end 31', 261, 776, { align: 'right', size: 13, color: CG });
txt('NTX', 261, 789, { align: 'right', size: 13, color: '#999' });
txt('100 pA', 222, 801, { size: 12.5 });
txt('20 ms', 198, 822, { size: 12.5 });
txt('Baseline', 478, 754, { align: 'right', size: 13, color: '#333' });
txt('β-end 26', 471, 767, { align: 'right', size: 13, color: CR });
txt('NTX', 471, 780, { align: 'right', size: 13, color: '#999' });
txt('100 pA', 442, 798, { size: 12.5 });
txt('20 ms', 420, 815, { size: 12.5 });
txt('Baseline', 696, 750, { align: 'right', size: 13, color: '#333' });
txt('β-end 27', 696, 763, { align: 'right', size: 13, color: CB });
txt('NTX', 696, 776, { align: 'right', size: 13, color: '#999' });
txt('100 pA', 645, 798, { size: 12.5 });
txt('20 ms', 623, 815, { size: 12.5 });

txt('β-end 26', 722, 812, { align: 'right', size: 12, rot: -48 });
txt('β-end 27', 738, 810, { align: 'right', size: 12, rot: -48 });
txt('β-end 31', 752, 811, { align: 'right', size: 12, rot: -48 });
</script></body></html>
